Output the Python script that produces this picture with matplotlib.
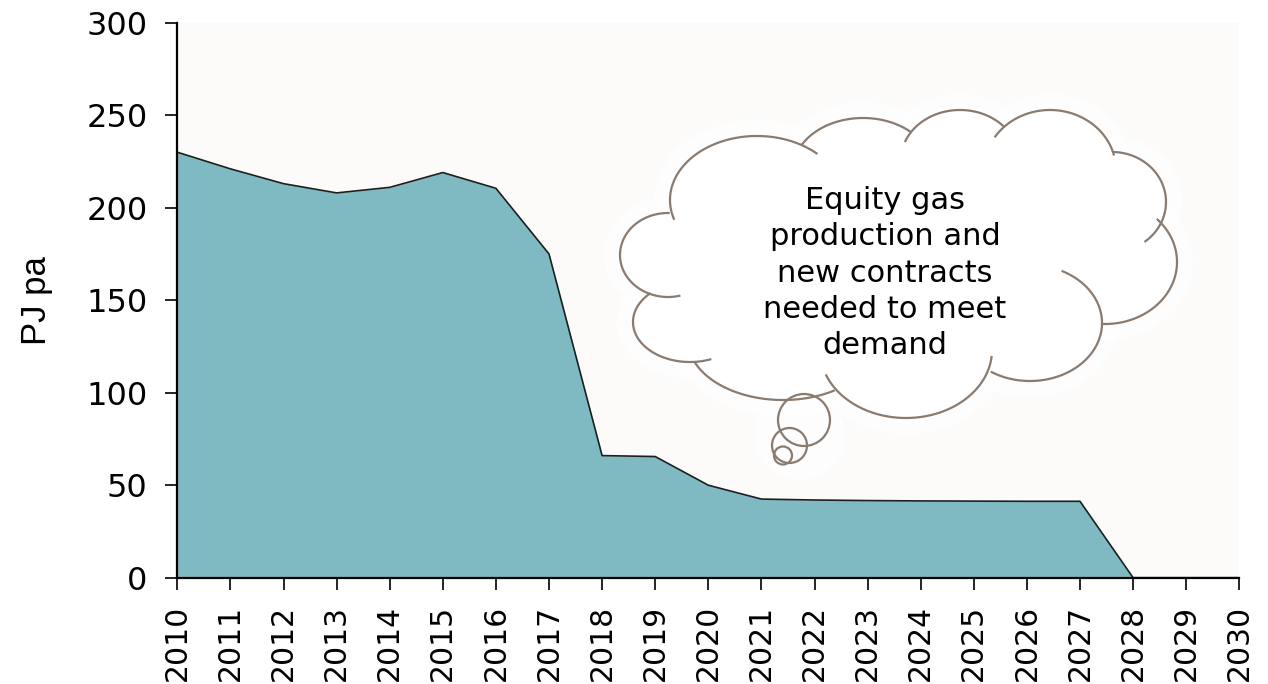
import numpy as np
import matplotlib
matplotlib.use('Agg')
import matplotlib.pyplot as plt
import matplotlib.transforms as mtransforms
from matplotlib.patches import Ellipse, Circle

# ---------------- data ----------------
YEARS = list(range(2010, 2031))
SUPPLY_PJ = [230, 221, 213, 208, 211, 219, 210.5, 175, 66, 65.5, 50,
             42.5, 42, 41.7, 41.5, 41.4, 41.3, 41.3, 0, 0, 0]
Y_TICKS = [0, 50, 100, 150, 200, 250, 300]
Y_LABEL = 'PJ pa'
CLOUD_TEXT = 'Equity gas\nproduction and\nnew contracts\nneeded to meet\ndemand'

# ---------------- style ----------------
CLR_FILL = '#7fb9c1'
CLR_EDGE = '#1e1e1e'
CLR_BG = '#fcfbf9'
CLR_CLOUD = '#8a7b70'

W, H = 1268, 684
fig = plt.figure(figsize=(W / 100, H / 100), dpi=100)
fig.patch.set_facecolor('white')
ax = fig.add_axes([177.3 / W, 1 - 577.7 / H, 1062 / W, 555 / H])
ax.set_facecolor(CLR_BG)

# area + top outline
ax.fill_between(YEARS, SUPPLY_PJ, 0, color=CLR_FILL, lw=0, zorder=1)
ax.plot(YEARS, SUPPLY_PJ, color=CLR_EDGE, lw=1.2, zorder=2)

# pixel coordinates (origin top-left) for the thought bubble
px = mtransforms.Affine2D().scale(1 / W, -1 / H).translate(0, 1) + fig.transFigure

# cloud bumps: centre x, centre y, rx, ry, arc start/end (param. angle, y down)
BUMPS = [
    (757, 200, 87, 64, 162, 314),
    (668, 255, 48, 42, 75, 272),
    (690, 322, 57, 40, 68, 226),
    (783, 340, 95, 60, 57, 158),
    (906, 350, 86, 68, 5, 159),
    (1030, 323, 72, 58, -64, 123),
    (1105, 262, 72, 62, -44, 93),
    (1112, 202, 54, 50, -88, 53),
    (1050, 170, 66, 60, 213, 346),
    (960, 160, 59, 50, 201, 318),
    (863, 170, 70, 52, 208, 314),
]
CORE = (885, 265, 210, 115)

# soft white glow behind the cloud
for cx, cy, rx, ry, _, _ in BUMPS + [CORE + (0, 0)]:
    ax.add_patch(Ellipse((cx, cy), 2 * (rx + 16), 2 * (ry + 16), transform=px,
                         fc='white', ec='none', alpha=0.7, zorder=0.5))
ax.add_patch(Ellipse((800, 435), 90, 90, transform=px, fc='white', ec='none',
                     alpha=0.7, zorder=0.5))

# cloud body
for cx, cy, rx, ry, _, _ in BUMPS + [CORE + (0, 0)]:
    ax.add_patch(Ellipse((cx, cy), 2 * rx, 2 * ry, transform=px,
                         fc='white', ec='none', zorder=3))

# cloud outline arcs
for cx, cy, rx, ry, t1, t2 in BUMPS:
    t = np.radians(np.linspace(t1, t2, 120))
    ax.plot(cx + rx * np.cos(t), cy + ry * np.sin(t), transform=px,
            color=CLR_CLOUD, lw=1.6, zorder=4, solid_capstyle='butt')

# small thought circles
for cx, cy, r in [(804, 420, 26), (789.5, 445.5, 17.5), (783, 455.5, 9)]:
    ax.add_patch(Circle((cx, cy), r, transform=px, fill=False,
                        ec=CLR_CLOUD, lw=1.6, zorder=4))

ax.text(885, 273, CLOUD_TEXT, transform=px, ha='center', va='center',
        multialignment='center', fontsize=22, linespacing=1.32, zorder=5)

# axes
ax.set_xlim(2010, 2030)
ax.set_ylim(0, 300)
ax.set_xticks(YEARS)
ax.set_xticklabels([str(y) for y in YEARS], rotation=90)
ax.set_yticks(Y_TICKS)
ax.tick_params(axis='both', direction='out', length=8.5, width=1.2,
               colors='black')
ax.tick_params(axis='y', pad=13, labelsize=23)
ax.tick_params(axis='x', pad=11, labelsize=21.5)
for s in ['top', 'right']:
    ax.spines[s].set_visible(False)
for s in ['left', 'bottom']:
    ax.spines[s].set_linewidth(1.6)
    ax.spines[s].set_zorder(6)

ax.set_ylabel(Y_LABEL, fontsize=25, family='Liberation Sans', va='center')
ax.yaxis.set_label_coords(-0.133, 0.5)

plt.savefig('out.png', dpi=100)
